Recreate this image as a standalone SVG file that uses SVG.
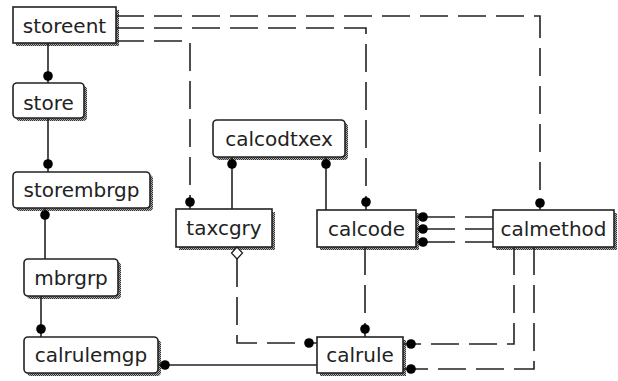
<svg xmlns="http://www.w3.org/2000/svg" width="618" height="381" viewBox="0 0 618 381">
<defs>
<pattern id="dither" width="2" height="2" patternUnits="userSpaceOnUse">
<rect width="2" height="2" fill="#b0b0b0"/>
<rect width="1" height="1" fill="#333"/>
<rect x="1" y="1" width="1" height="1" fill="#333"/>
</pattern>
</defs>
<style>
.sh{fill:url(#dither)}
.bx{fill:#fff;stroke:#222;stroke-width:1.6}
.t{font-family:"DejaVu Sans",sans-serif;font-size:20px;fill:#222;text-anchor:middle}
.s{fill:none;stroke:#222;stroke-width:1.6}
.d{fill:none;stroke:#222;stroke-width:1.6;stroke-dasharray:28 10}
.d2{fill:none;stroke:#222;stroke-width:1.6;stroke-dasharray:39 10 28}
.dot{fill:#000}
.dia{fill:#fff;stroke:#222;stroke-width:1.3}
</style>
<rect width="618" height="381" fill="#fff"/>
<g id="storeent"><rect class="sh" x="16" y="10" width="103" height="36"/><rect class="bx" x="13" y="7" width="103" height="36"/><text class="t" x="64.5" y="33">storeent</text></g>
<g id="store"><rect class="sh" x="16" y="86" width="71" height="35" rx="4"/><rect class="bx" x="13" y="83" width="71" height="35" rx="4"/><text class="t" x="48.5" y="110">store</text></g>
<g id="storembrgp"><rect class="sh" x="16" y="175" width="137" height="36" rx="4"/><rect class="bx" x="13" y="172" width="137" height="36" rx="4"/><text class="t" x="81.5" y="197">storembrgp</text></g>
<g id="mbrgrp"><rect class="sh" x="27" y="262" width="94" height="37" rx="4"/><rect class="bx" x="24" y="259" width="94" height="37" rx="4"/><text class="t" x="71" y="285">mbrgrp</text></g>
<g id="calrulemgp"><rect class="sh" x="27" y="340" width="134" height="36" rx="4"/><rect class="bx" x="24" y="337" width="134" height="36" rx="4"/><text class="t" x="91" y="362">calrulemgp</text></g>
<g id="calcodtxex"><rect class="sh" x="216" y="123" width="132" height="37" rx="4"/><rect class="bx" x="213" y="120" width="132" height="37" rx="4"/><text class="t" x="279" y="146">calcodtxex</text></g>
<g id="taxcgry"><rect class="sh" x="179" y="212" width="96" height="38"/><rect class="bx" x="176" y="209" width="96" height="38"/><text class="t" x="224" y="235">taxcgry</text></g>
<g id="calcode"><rect class="sh" x="320" y="213" width="99" height="37"/><rect class="bx" x="317" y="210" width="99" height="37"/><text class="t" x="366.5" y="236">calcode</text></g>
<g id="calmethod"><rect class="sh" x="496" y="213" width="121" height="37"/><rect class="bx" x="493" y="210" width="121" height="37"/><text class="t" x="553.5" y="236">calmethod</text></g>
<g id="calrule"><rect class="sh" x="320" y="340" width="86" height="36"/><rect class="bx" x="317" y="337" width="86" height="36"/><text class="t" x="360" y="362">calrule</text></g>
<g id="connectors">
<path class="s" d="M48,43V83"/><circle class="dot" cx="48" cy="76" r="4.8"/>
<path class="s" d="M48,118V172"/><circle class="dot" cx="48" cy="164" r="4.8"/>
<path class="s" d="M45,208V259"/><circle class="dot" cx="45" cy="215" r="4.8"/>
<path class="s" d="M41,296V337"/><circle class="dot" cx="41" cy="329" r="4.8"/>
<path class="s" d="M158,365H317"/><circle class="dot" cx="165" cy="365" r="4.8"/>
<path class="s" d="M232,157V209"/><circle class="dot" cx="232" cy="164" r="4.8"/>
<path class="s" d="M326,157V210"/><circle class="dot" cx="326" cy="164" r="4.8"/>
<path class="d" d="M116,16H540V210"/><circle class="dot" cx="540" cy="203" r="4.8"/>
<path class="d" d="M116,28H366V210"/><circle class="dot" cx="366" cy="202" r="4.8"/>
<path class="d" d="M116,41H190V209"/><circle class="dot" cx="190" cy="202" r="4.8"/>
<path class="d2" d="M416,217H493M416,229H493M416,242H493"/>
<circle class="dot" cx="423" cy="217" r="4.8"/><circle class="dot" cx="423" cy="229" r="4.8"/><circle class="dot" cx="423" cy="242" r="4.8"/>
<path class="d" d="M365,247V337"/><circle class="dot" cx="365" cy="329" r="4.8"/>
<path class="d" d="M237,259V343H317"/><circle class="dot" cx="309" cy="343" r="4.8"/>
<polygon class="dia" points="237,247 242.5,253 237,259 231.5,253"/>
<path class="d" d="M514,247V344H403"/><circle class="dot" cx="411" cy="344" r="4.8"/>
<path class="d" d="M534,247V369H403"/><circle class="dot" cx="411" cy="369" r="4.8"/>
</g>
</svg>
